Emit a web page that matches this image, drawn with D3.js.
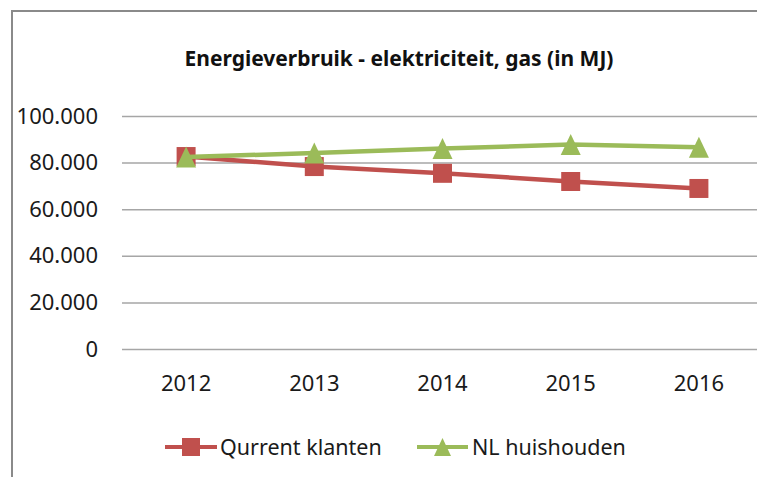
<!DOCTYPE html>
<html>
<head>
<meta charset="utf-8">
<script src="https://cdn.jsdelivr.net/npm/d3@7"></script>
<style>
  body { margin: 0; background: #fff; }
  svg { display: block; font-family: "Noto Sans", sans-serif; }
</style>
</head>
<body>
<svg id="chart" width="757" height="477"></svg>
<script>
// data
const years = ["2012", "2013", "2014", "2015", "2016"];
const qurrentKlanten = [82600, 78300, 75400, 71900, 68900];
const nlHuishouden = [82400, 84100, 86000, 87800, 86600];
const yTicks = [0, 20000, 40000, 60000, 80000, 100000];
const seriesNames = ["Qurrent klanten", "NL huishouden"];
const title = "Energieverbruik - elektriciteit, gas (in MJ)";

const svg = d3.select("#chart");
const W = 757, H = 477;

const margin = { left: 122, right: -6, top: 116, bottom: 128 };
const width = W - margin.left - margin.right;
const height = H - margin.top - margin.bottom;

// nombres avec un point pour les milliers
const nl = d3.formatLocale({ decimal: ",", thousands: ".", grouping: [3], currency: ["€", ""] });
const fmt = nl.format(",d");

// cadre du graphique
svg.append("rect")
  .attr("x", 12).attr("y", 11)
  .attr("width", 800).attr("height", 500)
  .attr("fill", "#fff")
  .attr("stroke", "#8a8a8a")
  .attr("stroke-width", 2);

svg.append("text")
  .attr("x", 399).attr("y", 65.5)
  .attr("text-anchor", "middle")
  .attr("font-size", 21)
  .attr("font-weight", "bold")
  .attr("fill", "#111")
  .text(title);

const g = svg.append("g").attr("transform", `translate(${margin.left},${margin.top})`);

const x = d3.scaleBand().domain(years).range([0, width]).padding(0);
const y = d3.scaleLinear().domain([0, 100000]).range([height, 0]);
const cx = d => x(d) + x.bandwidth() / 2;

// axe Y + quadrillage
const yAxis = g.append("g")
  .call(d3.axisLeft(y).tickValues(yTicks).tickFormat(fmt).tickSize(-width).tickPadding(24));
yAxis.select(".domain").remove();
yAxis.selectAll(".tick line").attr("stroke", "#a6a6a6").attr("stroke-width", 1.5);
yAxis.selectAll(".tick text")
  .attr("font-size", 22)
  .attr("font-family", "Noto Sans")
  .attr("fill", "#1a1a1a");

// axe X
const xAxis = g.append("g")
  .attr("transform", `translate(0,${height})`)
  .call(d3.axisBottom(x).tickSize(0).tickPadding(26));
xAxis.select(".domain").remove();
xAxis.selectAll(".tick text")
  .attr("font-size", 22)
  .attr("font-family", "Noto Sans")
  .attr("fill", "#1a1a1a");

// triangle un peu plus haut que large, centré sur sa boîte
const tallTriangle = {
  draw(ctx, size) {
    const w = Math.sqrt(size), h = w * 1.05;
    ctx.moveTo(0, -h / 2);
    ctx.lineTo(w / 2, h / 2);
    ctx.lineTo(-w / 2, h / 2);
    ctx.closePath();
  }
};

const series = [
  { name: seriesNames[0], values: qurrentKlanten, color: "#C0504D", symbol: d3.symbolSquare, size: 19 * 19 },
  { name: seriesNames[1], values: nlHuishouden, color: "#9BBB59", symbol: tallTriangle, size: 20 * 20 }
];

const line = d3.line().x((d, i) => cx(years[i])).y(d => y(d));

series.forEach(s => {
  g.append("path")
    .datum(s.values)
    .attr("d", line)
    .attr("fill", "none")
    .attr("stroke", s.color)
    .attr("stroke-width", 4.5)
    .attr("stroke-linejoin", "round");

  g.selectAll(null)
    .data(s.values)
    .enter().append("path")
    .attr("transform", (d, i) => `translate(${cx(years[i])},${y(d)})`)
    .attr("d", d3.symbol(s.symbol, s.size))
    .attr("fill", s.color);
});

// légende
const legendY = 447;
const legendItems = [
  { s: series[0], x0: 165, x1: 217, tx: 220 },
  { s: series[1], x0: 417, x1: 468, tx: 472 }
];
legendItems.forEach(it => {
  svg.append("line")
    .attr("x1", it.x0).attr("x2", it.x1)
    .attr("y1", legendY).attr("y2", legendY)
    .attr("stroke", it.s.color).attr("stroke-width", 4);
  svg.append("path")
    .attr("transform", `translate(${(it.x0 + it.x1) / 2},${legendY})`)
    .attr("d", d3.symbol(it.s.symbol, it.s.symbol === d3.symbolSquare ? 18 * 18 : 17 * 17))
    .attr("fill", it.s.color);
  svg.append("text")
    .attr("x", it.tx).attr("y", legendY)
    .attr("dy", "0.36em")
    .attr("font-size", 21.5)
    .attr("fill", "#1a1a1a")
    .text(it.s.name);
});
</script>
</body>
</html>
